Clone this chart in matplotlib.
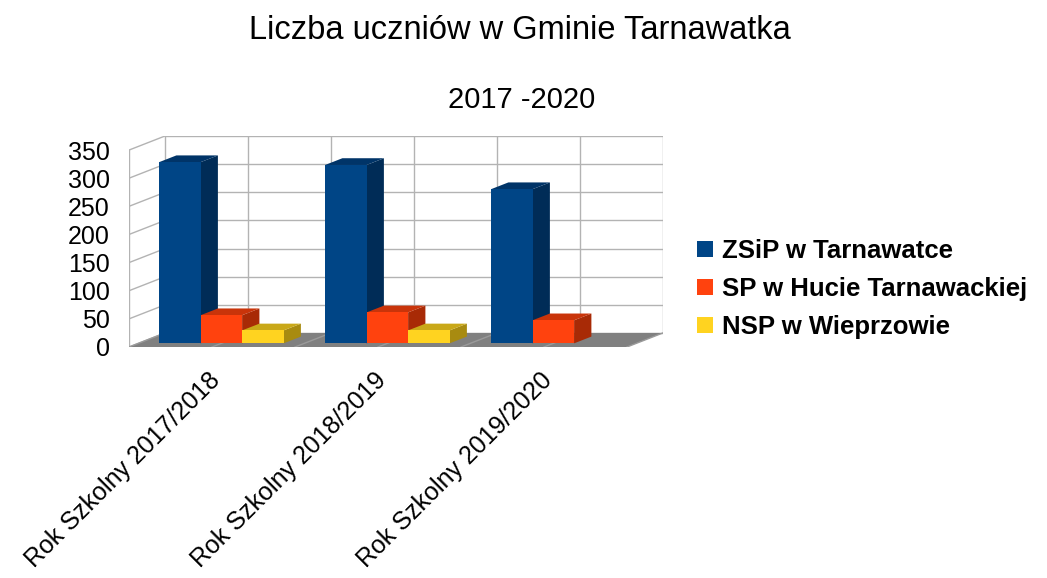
import matplotlib.pyplot as plt
from matplotlib.patches import Polygon, Patch

plt.rcParams['font.family'] = ['Liberation Sans', 'DejaVu Sans']

categories = ["Rok Szkolny 2017/2018", "Rok Szkolny 2018/2019", "Rok Szkolny 2019/2020"]
series_names = ["ZSiP w Tarnawatce", "SP w Hucie Tarnawackiej", "NSP w Wieprzowie"]
zsip = [322, 317, 274]
sp_huta = [50, 55, 41]
nsp = [23, 23, 0]
yticks = [0, 50, 100, 150, 200, 250, 300, 350]

front_colors = ["#004586", "#ff420e", "#ffd320"]
side_colors = ["#002c57", "#a82a06", "#a88b10"]
top_colors = ["#003468", "#c9340a", "#c9a818"]
grid_c = "#b3b3b3"

# pseudo 3d depth offsets (data units)
DX, DY = 0.217, 25.0
F0, F1 = 0.26, 0.74
W = 0.25
YMAX = 350

fig = plt.figure(figsize=(10.47, 5.78), dpi=100)
ax = fig.add_axes([129 / 1047, 231 / 578, 534 / 1047, 211 / 578])
ax.set_xlim(0, 3 + DX)
ax.set_ylim(0, YMAX + DY)
for s in ax.spines.values():
    s.set_visible(False)
ax.set_xticks([])
ax.set_yticks(yticks)
ax.set_yticklabels([str(t) for t in yticks], fontsize=18)
ax.tick_params(axis='y', length=0, pad=14)

n = len(categories)
# back wall + side wall
for t in yticks:
    ax.plot([DX, n + DX], [t + DY, t + DY], color=grid_c, lw=1, zorder=1)
    ax.plot([0, DX], [t, t + DY], color=grid_c, lw=1, zorder=1)
for k in range(2 * n + 1):
    ax.plot([DX + k * 0.5] * 2, [DY, YMAX + DY], color=grid_c, lw=1, zorder=1)
ax.plot([0, 0], [0, YMAX], color=grid_c, lw=1, zorder=1)

# floor
ax.add_patch(Polygon([(0, 0), (n, 0), (n + DX, DY), (DX, DY)], closed=True,
                     facecolor="#808080", edgecolor="none", zorder=2, clip_on=False))
for k in range(2 * n + 1):
    ax.plot([k * 0.5, k * 0.5 + DX], [0, DY], color="#9a9a9a", lw=1, zorder=2)

data = [zsip, sp_huta, nsp]
for j, vals in enumerate(data):
    lefts = [i + 0.125 + j * W for i in range(n)]
    z = 3 + j
    for L, h in zip(lefts, vals):
        if h <= 0:
            continue
        side = [(L + W + F0 * DX, F0 * DY), (L + W + F1 * DX, F1 * DY),
                (L + W + F1 * DX, h + F1 * DY), (L + W + F0 * DX, h + F0 * DY)]
        top = [(L + F0 * DX, h + F0 * DY), (L + W + F0 * DX, h + F0 * DY),
               (L + W + F1 * DX, h + F1 * DY), (L + F1 * DX, h + F1 * DY)]
        ax.add_patch(Polygon(side, closed=True, facecolor=side_colors[j], edgecolor="none", zorder=z))
        ax.add_patch(Polygon(top, closed=True, facecolor=top_colors[j], edgecolor="none", zorder=z))
    ax.bar([L + F0 * DX for L in lefts], vals, width=W, bottom=F0 * DY, align='edge',
           color=front_colors[j], edgecolor="none", zorder=z)

for i, lab in enumerate(categories):
    ax.annotate(lab, xy=(i + 0.5, 0), xytext=(-3, -15), textcoords='offset points',
                rotation=45, ha='right', va='top', rotation_mode='anchor', fontsize=18,
                annotation_clip=False)

fig.text(0.497, 0.948, "Liczba uczniów w Gminie Tarnawatka", ha='center', va='center', fontsize=23.5)
fig.text(0.498, 0.827, "2017 -2020", ha='center', va='center', fontsize=21)

handles = [Patch(facecolor=c, edgecolor="none") for c in front_colors]
fig.legend(handles, series_names, loc='center left', bbox_to_anchor=(687 / 1047, 0.5),
           frameon=False, prop={'weight': 'bold', 'size': 18.5}, borderaxespad=0,
           handlelength=0.62, handleheight=0.58, handletextpad=0.35, labelspacing=0.55)

fig.savefig("out.png", dpi=100)
